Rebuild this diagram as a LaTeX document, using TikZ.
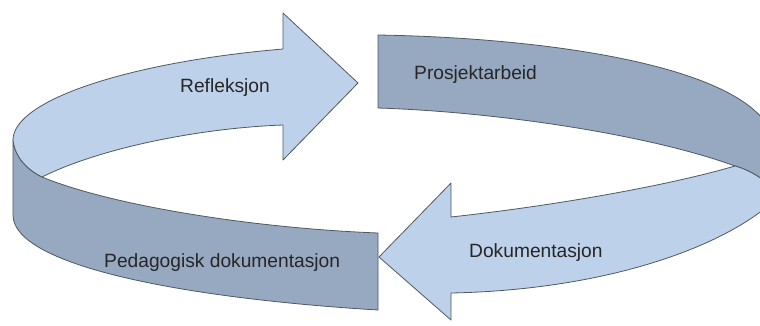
\documentclass[tikz,border=0pt]{standalone}
\usepackage{fontspec}
\setmainfont{Liberation Sans}
\definecolor{lightband}{HTML}{BDD1EA}
\definecolor{darkband}{HTML}{97A9C1}
\definecolor{edge}{HTML}{505860}
\begin{document}
\begin{tikzpicture}[x=1pt,y=-1pt,
  band/.style={draw=edge,line width=0.8pt,line join=round},
  lightpart/.style={band,fill=lightband},
  darkpart/.style={band,fill=darkband},
  lbl/.style={font=\fontsize{19.2}{21}\selectfont,text=black!85,inner sep=0pt,anchor=base west}]
\useasboundingbox (0,0) rectangle (760,325);
\begin{scope}
\clip (0,0) rectangle (760,325);
% left dark band (Pedagogisk dokumentasjon)
\path[darkpart] (42,177) .. controls (110,205) and (250,228) .. (378,233)
  -- (378,310) .. controls (180,298) and (13,265) .. (13,215)
  -- (13,140) .. controls (15,158) and (28,170) .. (42,177) -- cycle;
% left light arrow (Refleksjon)
\path[lightpart] (283,49) .. controls (130,62) and (13,100) .. (13,140)
  .. controls (15,158) and (28,170) .. (42,177)
  .. controls (100,148) and (200,128) .. (283,125)
  -- (283,160) -- (358,83) -- (283,13) -- cycle;
% right dark band (Prosjektarbeid)
\path[darkpart] (378,35) .. controls (560,38) and (775,70) .. (775,150)
  -- (775,190) .. controls (765,180) and (750,170) .. (735,166)
  .. controls (650,135) and (500,112) .. (378,108) -- cycle;
% right light arrow (Dokumentasjon)
\path[lightpart] (735,166) .. controls (750,170) and (765,180) .. (775,190)
  -- (775,200) .. controls (720,250) and (600,290) .. (451,293)
  -- (451,320) -- (379,257) -- (451,183) -- (451,217)
  .. controls (560,205) and (670,185) .. (735,166) -- cycle;
\end{scope}
\node[lbl] (refl) at (180,92.5) {Refleksjon};
\node[lbl] (ped) at (104,267) {Pedagogisk dokumentasjon};
\node[lbl] (pros) at (414,79) {Prosjektarbeid};
\node[lbl] (dok) at (469,257) {Dokumentasjon};
\end{tikzpicture}
\end{document}
